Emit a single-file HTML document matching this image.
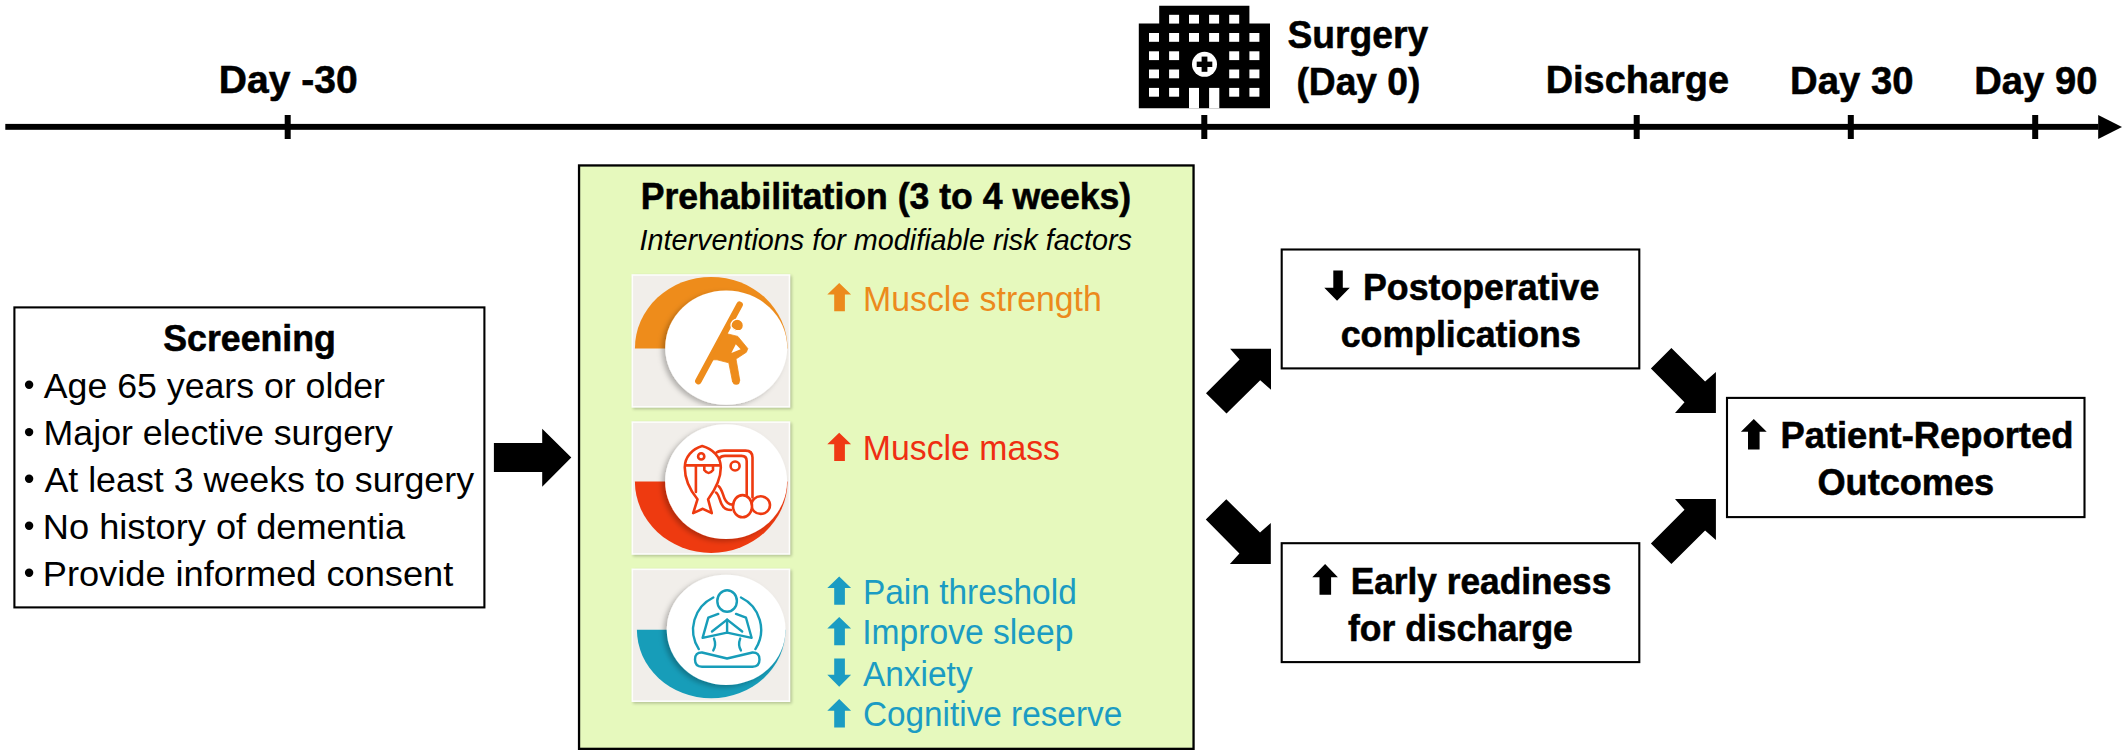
<!DOCTYPE html>
<html><head><meta charset="utf-8"><style>
html,body{margin:0;padding:0;background:#fff;}
svg{display:block;font-family:"Liberation Sans", sans-serif;}
</style></head><body>
<svg width="2128" height="756" viewBox="0 0 2128 756">
<rect width="2128" height="756" fill="#fff"/>
<rect x="5.3" y="123.9" width="2093.2" height="5.9" fill="#000"/>
<rect x="284.7" y="115" width="6" height="24" fill="#000"/>
<rect x="1201.3" y="115" width="6" height="24" fill="#000"/>
<rect x="1633.7" y="115" width="6" height="24" fill="#000"/>
<rect x="1847.8" y="115" width="6" height="24" fill="#000"/>
<rect x="2032.2" y="115" width="6" height="24" fill="#000"/>
<polygon points="2098.2,115 2122,126.9 2098.2,139" fill="#000"/>
<path d="M1159.2,5.8 H1249.4 V23.6 H1270 V108.3 H1138.8 V23.6 H1159.2 Z" fill="#000"/>
<rect x="1169.1" y="14.8" width="10" height="8.8" fill="#fff"/>
<rect x="1189" y="14.8" width="10" height="8.8" fill="#fff"/>
<rect x="1209.1" y="14.8" width="10" height="8.8" fill="#fff"/>
<rect x="1229.2" y="14.8" width="10" height="8.8" fill="#fff"/>
<rect x="1149" y="33" width="10" height="8.8" fill="#fff"/>
<rect x="1169.1" y="33" width="10" height="8.8" fill="#fff"/>
<rect x="1189" y="33" width="10" height="8.8" fill="#fff"/>
<rect x="1209.1" y="33" width="10" height="8.8" fill="#fff"/>
<rect x="1229.2" y="33" width="10" height="8.8" fill="#fff"/>
<rect x="1249.4" y="33" width="10" height="8.8" fill="#fff"/>
<rect x="1149" y="51.3" width="10" height="8.8" fill="#fff"/>
<rect x="1169.1" y="51.3" width="10" height="8.8" fill="#fff"/>
<rect x="1229.2" y="51.3" width="10" height="8.8" fill="#fff"/>
<rect x="1249.4" y="51.3" width="10" height="8.8" fill="#fff"/>
<rect x="1149" y="69.5" width="10" height="8.8" fill="#fff"/>
<rect x="1169.1" y="69.5" width="10" height="8.8" fill="#fff"/>
<rect x="1229.2" y="69.5" width="10" height="8.8" fill="#fff"/>
<rect x="1249.4" y="69.5" width="10" height="8.8" fill="#fff"/>
<rect x="1149" y="87.9" width="10" height="8.8" fill="#fff"/>
<rect x="1169.1" y="87.9" width="10" height="8.8" fill="#fff"/>
<rect x="1229.2" y="87.9" width="10" height="8.8" fill="#fff"/>
<rect x="1249.4" y="87.9" width="10" height="8.8" fill="#fff"/>
<rect x="1189" y="87.9" width="10" height="20.4" fill="#fff"/>
<rect x="1209.1" y="87.9" width="10.2" height="20.4" fill="#fff"/>
<circle cx="1204.5" cy="64.3" r="12.5" fill="#fff"/>
<rect x="1201.6" y="56.6" width="5.8" height="15.2" fill="#000"/>
<rect x="1196.7" y="61.6" width="15.6" height="5.4" fill="#000"/>
<rect x="14.4" y="307.4" width="470" height="300" fill="none" stroke="#000" stroke-width="2.1"/>
<circle cx="29.1" cy="384.8" r="4.2" fill="#000"/>
<circle cx="29.1" cy="432.1" r="4.2" fill="#000"/>
<circle cx="29.1" cy="478.8" r="4.2" fill="#000"/>
<circle cx="29.1" cy="525.7" r="4.2" fill="#000"/>
<circle cx="29.1" cy="572.7" r="4.2" fill="#000"/>
<polygon points="493.9,443 542.2,443 542.2,428.8 571.3,457.6 542.2,486.7 542.2,472.1 493.9,472.1" fill="#000"/>
<rect x="579.05" y="165.45" width="614.5" height="583.4" fill="#E6F9BD" stroke="#000" stroke-width="2.3"/>
<rect x="1281.7" y="249.5" width="357.6" height="118.9" fill="#fff" stroke="#000" stroke-width="2.1"/>
<rect x="1281.7" y="543.2" width="357.6" height="118.9" fill="#fff" stroke="#000" stroke-width="2.1"/>
<rect x="1727" y="397.9" width="357.5" height="119.2" fill="#fff" stroke="#000" stroke-width="2.1"/>
<polygon points="1271.0,348.7 1271.0,389.8 1260.2,380.2 1226.5,413.6 1206.0,393.3 1239.6,359.4 1230.1,348.7" fill="#000"/>
<polygon points="1270.8,564.1 1270.8,523.0 1260.0,532.6 1226.3,499.2 1205.8,519.5 1239.4,553.4 1229.9,564.1" fill="#000"/>
<polygon points="1715.9,413.0 1715.9,371.9 1705.1,381.5 1671.4,348.1 1650.9,368.4 1684.5,402.3 1675.0,413.0" fill="#000"/>
<polygon points="1715.9,499.0 1715.9,540.1 1705.1,530.5 1671.4,563.9 1650.9,543.6 1684.5,509.7 1675.0,499.0" fill="#000"/>
<polygon points="1337.05,300.8 1349.8,287.7 1342.8,287.7 1342.8,270.5 1333.3,270.5 1333.3,287.7 1324.3,287.7" fill="#000"/>
<polygon points="1325.10,564 1337.9,577.3 1331.1,577.3 1331.1,594.8 1319.5,594.8 1319.5,577.3 1312.3,577.3" fill="#000"/>
<polygon points="1753.80,418.9 1766.7,431.7 1759.6,431.7 1759.6,449.5 1748,449.5 1748,431.7 1740.9,431.7" fill="#000"/>
<polygon points="839.20,283.0 851.1,294.59999999999997 844.9,294.59999999999997 844.9,311.3 834.2,311.3 834.2,294.59999999999997 827.3,294.59999999999997" fill="#EC8A1C"/>
<polygon points="839.20,432.7 851.1,444.29999999999995 844.9,444.29999999999995 844.9,461.0 834.2,461.0 834.2,444.29999999999995 827.3,444.29999999999995" fill="#EF3A14"/>
<polygon points="839.20,576.5 851.1,588.1 844.9,588.1 844.9,604.8000000000001 834.2,604.8000000000001 834.2,588.1 827.3,588.1" fill="#1B9CC3"/>
<polygon points="839.20,617.0 851.1,628.6 844.9,628.6 844.9,645.3000000000001 834.2,645.3000000000001 834.2,628.6 827.3,628.6" fill="#1B9CC3"/>
<polygon points="839.20,686.6999999999999 851.1,674.6999999999999 844.9,674.6999999999999 844.9,658.4 834.2,658.4 834.2,674.6999999999999 827.3,674.6999999999999" fill="#1B9CC3"/>
<polygon points="839.20,699.0999999999999 851.1,710.6999999999999 844.9,710.6999999999999 844.9,727.4 834.2,727.4 834.2,710.6999999999999 827.3,710.6999999999999" fill="#1B9CC3"/>
<defs>
<filter id="blur2" x="-10%" y="-10%" width="120%" height="120%"><feGaussianBlur stdDeviation="1.6"/></filter>
<filter id="wsh" x="-20%" y="-20%" width="140%" height="140%"><feDropShadow dx="-3.2" dy="2.2" stdDeviation="2.4" flood-color="#000" flood-opacity="0.26"/></filter>
<clipPath id="t1"><rect x="633" y="275.5" width="155.8" height="130.5"/></clipPath>
<clipPath id="t2"><rect x="633" y="422.8" width="155.8" height="130.5"/></clipPath>
<clipPath id="t3"><rect x="633" y="570" width="155.8" height="130.5"/></clipPath>
<clipPath id="up1"><rect x="600" y="200" width="200" height="148.4"/></clipPath>
<clipPath id="dn2"><rect x="600" y="481.4" width="200" height="100"/></clipPath>
<clipPath id="dn3"><rect x="600" y="629.8" width="200" height="100"/></clipPath>
</defs>
<rect x="633.0" y="275.7" width="158.8" height="133.5" fill="#000" opacity="0.22" filter="url(#blur2)"/><rect x="631.5" y="274.2" width="158.8" height="133.5" fill="#FDFDFC"/><rect x="633.1" y="275.8" width="155.60000000000002" height="130.3" fill="#F1EEEA"/>
<g clip-path="url(#t1)">
<ellipse cx="711.2" cy="348.4" rx="76.3" ry="71.5" fill="#EE8C1B" clip-path="url(#up1)"/>
<ellipse cx="726.2" cy="347.6" rx="61" ry="57.2" fill="#fff" filter="url(#wsh)"/>
</g>
<g fill="#EE8C1B" stroke="none">
<line x1="739.6" y1="304.8" x2="698.4" y2="381" stroke="#EE8C1B" stroke-width="6.6" stroke-linecap="round"/>
<polygon points="724.1,333 737.8,336.4 747.8,348.6 746.4,352.2 736,359 739.8,380.6 732.6,382 728.8,362.8 717,359.8 711,359.8" stroke="#EE8C1B" stroke-width="0.8" stroke-linejoin="round"/>
<circle cx="736.2" cy="381.2" r="3.6"/>
<polygon points="735.8,344.3 740.6,349.3 731.4,352.9" fill="#fff"/>
<circle cx="737.2" cy="325.4" r="6.2" stroke="#fff" stroke-width="1.3"/>
<path d="M731.5,327 Q735,331.5 740,330.5" stroke="#fff" stroke-width="1.2" fill="none"/>
</g>
<rect x="633.0" y="422.8" width="158.8" height="133.5" fill="#000" opacity="0.22" filter="url(#blur2)"/><rect x="631.5" y="421.3" width="158.8" height="133.5" fill="#FDFDFC"/><rect x="633.1" y="422.90000000000003" width="155.60000000000002" height="130.3" fill="#F1EEEA"/>
<g clip-path="url(#t2)">
<ellipse cx="711.2" cy="481.4" rx="76.3" ry="71.5" fill="#EE3A10" clip-path="url(#dn2)"/>
<ellipse cx="726.1" cy="481.6" rx="61" ry="57.4" fill="#fff" filter="url(#wsh)"/>
</g>
<g fill="none" stroke="#EE3A10" stroke-width="2.6" stroke-linecap="round" stroke-linejoin="round">
<path d="M716.5,452.6 Q719,450.6 724,450.6 L745.5,450.6 Q752.5,450.6 752.5,457.6 L752.5,497.5"/>
<path d="M719.5,458.2 Q721,455.9 725,455.9 L741.5,455.9 Q746.7,455.9 746.7,461 L746.7,495"/>
<circle cx="735.1" cy="466" r="4.5"/>
<path d="M702.2,446 C692,449 685,457 684.8,467 C684.6,479 690,490 697.5,499.3 L693.2,513.1 L702.8,508.8 L711.8,513.1 L708.1,499.3 C715,490 721,479 720.8,467 C720.6,457 713,449 702.2,446 Z" fill="#fff"/>
<line x1="685.6" y1="465.4" x2="720" y2="465.4"/>
<circle cx="701.2" cy="456.4" r="3.1"/>
<path d="M704.3,466 L704.3,470 Q708.6,476 713,470 L713,466"/>
<line x1="695.9" y1="466.5" x2="695.9" y2="491.9"/>
<path d="M718.6,486.2 C722,489 722.5,494 724.5,498.5 C726.5,503 729,504.5 732.5,504.6"/>
<path d="M716,492.5 C719,494.5 719.5,500 721.5,504 C723.5,508.5 727,510 731,510"/>
<ellipse cx="760.7" cy="505.1" rx="9.3" ry="8.8"/>
<ellipse cx="742.5" cy="506.2" rx="9.5" ry="11.1" fill="#fff"/>
</g>
<rect x="633.0" y="570.0" width="158.8" height="133.5" fill="#000" opacity="0.22" filter="url(#blur2)"/><rect x="631.5" y="568.5" width="158.8" height="133.5" fill="#FDFDFC"/><rect x="633.1" y="570.1" width="155.60000000000002" height="130.3" fill="#F1EEEA"/>
<g clip-path="url(#t3)">
<ellipse cx="711.2" cy="629.7" rx="74.3" ry="68.5" fill="#179DB9" clip-path="url(#dn3)"/>
<ellipse cx="726.15" cy="629.85" rx="59.4" ry="55.2" fill="#fff" filter="url(#wsh)"/>
</g>
<g fill="none" stroke="#179DB9" stroke-width="2.4" stroke-linecap="round" stroke-linejoin="round">
<ellipse cx="727.1" cy="601" rx="9.8" ry="10.8"/>
<path d="M713.3,597.5 A35.8,35.8 0 0 0 698.8,649.1"/>
<path d="M741,597.5 A35.8,35.8 0 0 1 755.4,649.1"/>
<path d="M718.3,613.9 L708.3,617.7 L702.6,637.8 L727.1,632.6 L751.6,637.8 L746,617.7 L736,613.9"/>
<path d="M712,631.5 L727.1,619.6 L742.2,631.5"/>
<path d="M727.1,619.6 L727.1,632.6"/>
<path d="M714,638.6 Q716.5,645 713.3,650.4"/>
<path d="M740.2,638.6 Q737.7,645 740.9,650.4"/>
<path d="M727.1,658.5 L702,652.5 Q695,652.3 695,659.5 Q695,666.7 702,666.7 L752.5,666.7 Q759.5,666.7 759.5,659.5 Q759.5,652.3 752.5,652.5 Z"/>
</g>
<text x="218.76" y="93.30" font-size="39.2" font-weight="bold" fill="#000" stroke="#000" stroke-width="0.55" textLength="138.85" lengthAdjust="spacingAndGlyphs">Day -30</text>
<text x="1287.45" y="48.10" font-size="39.2" font-weight="bold" fill="#000" stroke="#000" stroke-width="0.55" textLength="140.80" lengthAdjust="spacingAndGlyphs">Surgery</text>
<text x="1296.41" y="94.60" font-size="39.2" font-weight="bold" fill="#000" stroke="#000" stroke-width="0.55" textLength="123.99" lengthAdjust="spacingAndGlyphs">(Day 0)</text>
<text x="1545.73" y="93.30" font-size="39.2" font-weight="bold" fill="#000" stroke="#000" stroke-width="0.55" textLength="183.27" lengthAdjust="spacingAndGlyphs">Discharge</text>
<text x="1790.10" y="93.50" font-size="39.2" font-weight="bold" fill="#000" stroke="#000" stroke-width="0.55" textLength="123.38" lengthAdjust="spacingAndGlyphs">Day 30</text>
<text x="1974.31" y="93.50" font-size="39.2" font-weight="bold" fill="#000" stroke="#000" stroke-width="0.55" textLength="123.07" lengthAdjust="spacingAndGlyphs">Day 90</text>
<text x="163.29" y="351.30" font-size="36.2" font-weight="bold" fill="#000" stroke="#000" stroke-width="0.55" textLength="172.59" lengthAdjust="spacingAndGlyphs">Screening</text>
<text x="43.80" y="398.00" font-size="35.7" font-weight="normal" fill="#000" textLength="341.16" lengthAdjust="spacingAndGlyphs">Age 65 years or older</text>
<text x="43.64" y="445.30" font-size="35.7" font-weight="normal" fill="#000" textLength="349.16" lengthAdjust="spacingAndGlyphs">Major elective surgery</text>
<text x="44.40" y="492.00" font-size="35.7" font-weight="normal" fill="#000" textLength="429.70" lengthAdjust="spacingAndGlyphs">At least 3 weeks to surgery</text>
<text x="42.80" y="538.90" font-size="35.7" font-weight="normal" fill="#000" textLength="362.36" lengthAdjust="spacingAndGlyphs">No history of dementia</text>
<text x="42.80" y="585.90" font-size="35.7" font-weight="normal" fill="#000" textLength="410.42" lengthAdjust="spacingAndGlyphs">Provide informed consent</text>
<text x="640.66" y="209.10" font-size="36.2" font-weight="bold" fill="#000" stroke="#000" stroke-width="0.55" textLength="490.47" lengthAdjust="spacingAndGlyphs">Prehabilitation (3 to 4 weeks)</text>
<text x="639.54" y="249.70" font-size="29.0" font-weight="normal" font-style="italic" fill="#000" textLength="492.44" lengthAdjust="spacingAndGlyphs">Interventions for modifiable risk factors</text>
<text x="863.09" y="310.70" font-size="34.2" font-weight="normal" fill="#EC8A1C" textLength="238.70" lengthAdjust="spacingAndGlyphs">Muscle strength</text>
<text x="862.80" y="459.80" font-size="34.2" font-weight="normal" fill="#EF2E12" textLength="197.22" lengthAdjust="spacingAndGlyphs">Muscle mass</text>
<text x="862.92" y="603.70" font-size="34.2" font-weight="normal" fill="#1B9CC3" textLength="213.85" lengthAdjust="spacingAndGlyphs">Pain threshold</text>
<text x="862.27" y="644.20" font-size="34.2" font-weight="normal" fill="#1B9CC3" textLength="211.14" lengthAdjust="spacingAndGlyphs">Improve sleep</text>
<text x="863.00" y="685.80" font-size="34.2" font-weight="normal" fill="#1B9CC3" textLength="109.60" lengthAdjust="spacingAndGlyphs">Anxiety</text>
<text x="862.93" y="726.30" font-size="34.2" font-weight="normal" fill="#1B9CC3" textLength="259.27" lengthAdjust="spacingAndGlyphs">Cognitive reserve</text>
<text x="1362.96" y="299.60" font-size="36.2" font-weight="bold" fill="#000" stroke="#000" stroke-width="0.55" textLength="236.38" lengthAdjust="spacingAndGlyphs">Postoperative</text>
<text x="1340.73" y="347.10" font-size="36.2" font-weight="bold" fill="#000" stroke="#000" stroke-width="0.55" textLength="240.06" lengthAdjust="spacingAndGlyphs">complications</text>
<text x="1350.79" y="593.80" font-size="36.2" font-weight="bold" fill="#000" stroke="#000" stroke-width="0.55" textLength="260.49" lengthAdjust="spacingAndGlyphs">Early readiness</text>
<text x="1348.05" y="640.70" font-size="36.2" font-weight="bold" fill="#000" stroke="#000" stroke-width="0.55" textLength="224.78" lengthAdjust="spacingAndGlyphs">for discharge</text>
<text x="1780.42" y="448.30" font-size="36.2" font-weight="bold" fill="#000" stroke="#000" stroke-width="0.55" textLength="292.99" lengthAdjust="spacingAndGlyphs">Patient-Reported</text>
<text x="1817.45" y="495.40" font-size="36.2" font-weight="bold" fill="#000" stroke="#000" stroke-width="0.55" textLength="176.75" lengthAdjust="spacingAndGlyphs">Outcomes</text>
</svg>
</body></html>
